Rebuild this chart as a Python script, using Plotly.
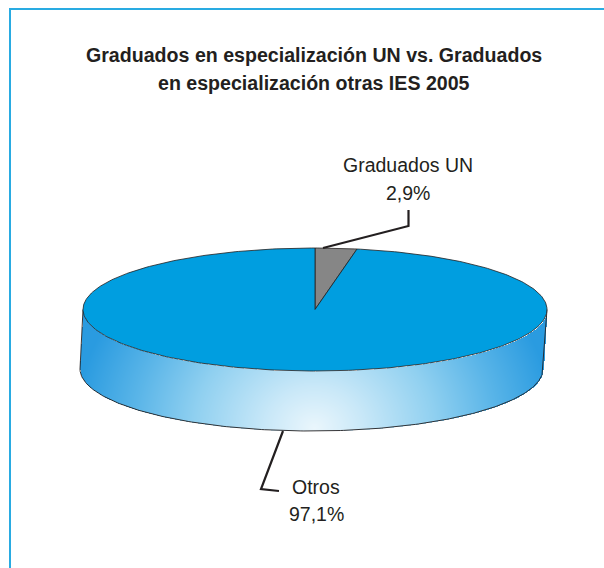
import numpy as np
import plotly.graph_objects as go

categories = ["Graduados UN", "Otros"]
values = [2.9, 97.1]
value_labels = ["2,9%", "97,1%"]
title_lines = ["Graduados en especialización UN vs. Graduados",
               "en especialización otras IES 2005"]

W, H = 604, 568
INK = "#231f20"
BLUE = "#009ee0"
GREY = "#868686"
FRAME = "#29abe2"
FONT = "Liberation Sans, Arial, sans-serif"

# pie projection (pixels of the photographed page)
cx, cy, a, b = 315.0, 309.5, 232.0, 61.5
bx, by, ba, bb = 311.5, 369.0, 231.5, 62.0


def ell(t, x0=cx, y0=cy, ra=a, rb=b):
    return x0 + ra * np.sin(t), y0 - rb * np.cos(t)


fig = go.Figure()

# side wall gradient (radial glow on the rim)
xs = np.arange(78, 550, 1.0)
ys = np.arange(305, 435, 1.0)
X, Y = np.meshgrid(xs, ys)
in_top = ((X - cx) / a) ** 2 + ((Y - cy) / b) ** 2 <= 1
in_bot = ((X - bx) / ba) ** 2 + ((Y - by) / bb) ** 2 <= 1
lam = np.clip((Y - cy) / (by - cy), 0, 1)
in_band = (X >= cx - a - 3.5 * lam) & (X <= cx + a - 3.5 * lam) & (Y >= cy) & (Y <= by)
mask = (in_band | in_bot) & ~in_top
Z = np.sqrt(((X - 314) / 240) ** 2 + ((Y - 428) / 210) ** 2)
Z = np.where(mask, np.clip(Z, 0, 1), np.nan)
fig.add_trace(go.Heatmap(
    x=xs, y=ys, z=Z, zmin=0, zmax=1, showscale=False, hoverinfo="skip",
    colorscale=[[0, "#eaf6fc"], [0.2, "#c9e8f8"], [0.5, "#90d0f0"],
                [0.75, "#5ab5e8"], [1, "#2a9be0"]],
))

# side outline
t = np.linspace(np.pi / 2, 3 * np.pi / 2, 240)
bxp, byp = ell(t, bx, by, ba, bb)
xp, yp = ell(np.array([np.pi / 2, 3 * np.pi / 2]))
fig.add_trace(go.Scatter(
    x=[xp[0], *bxp, xp[1]], y=[yp[0], *byp, yp[1]], mode="lines",
    line=dict(color=INK, width=0.9), hoverinfo="skip", showlegend=False))

# top face, slices from the values
fractions = np.array(values) / sum(values)
edges = np.concatenate([[0], np.cumsum(fractions)]) * 2 * np.pi
for i, col in enumerate([GREY, BLUE]):
    th = np.linspace(edges[i], edges[i + 1], 400 if i else 20)
    px_, py_ = ell(th)
    fig.add_trace(go.Scatter(
        x=[cx, *px_, cx], y=[cy, *py_, cy], mode="lines", fill="toself",
        fillcolor=col, line=dict(color=INK, width=0.8),
        hoverinfo="skip", showlegend=False, name=categories[i]))

# leader lines
leaders = [([408.5, 408.5, 323], [210, 226, 248]),
           ([283, 261, 279], [431, 489, 491])]
for lx, ly in leaders:
    fig.add_trace(go.Scatter(x=lx, y=ly, mode="lines",
                             line=dict(color=INK, width=2.2), hoverinfo="skip",
                             showlegend=False))

# frame
fig.add_trace(go.Scatter(x=[10, 10, W], y=[H, 9, 9], mode="lines",
                         line=dict(color=FRAME, width=2), hoverinfo="skip",
                         showlegend=False))


def text(x, y, s, size=19.5, bold=False):
    fig.add_annotation(x=x, y=y, text=f"<b>{s}</b>" if bold else s, showarrow=False,
                       xanchor="center", yanchor="middle",
                       font=dict(family=FONT, size=size, color=INK))


text(314, 55, title_lines[0], 19.6, True)
text(314, 83, title_lines[1], 19.6, True)
text(408, 165, categories[0])
text(408, 193, value_labels[0])
text(316, 487, categories[1])
text(316, 514, value_labels[1])

fig.update_layout(
    width=W, height=H, margin=dict(l=0, r=0, t=0, b=0),
    paper_bgcolor="white", plot_bgcolor="white", showlegend=False,
    xaxis=dict(range=[0, W], visible=False, fixedrange=True),
    yaxis=dict(range=[H, 0], visible=False, fixedrange=True),
)
fig.write_html("out.html", config=dict(displayModeBar=False),
               post_script="document.body.style.margin='0';document.body.style.overflow='hidden';")
